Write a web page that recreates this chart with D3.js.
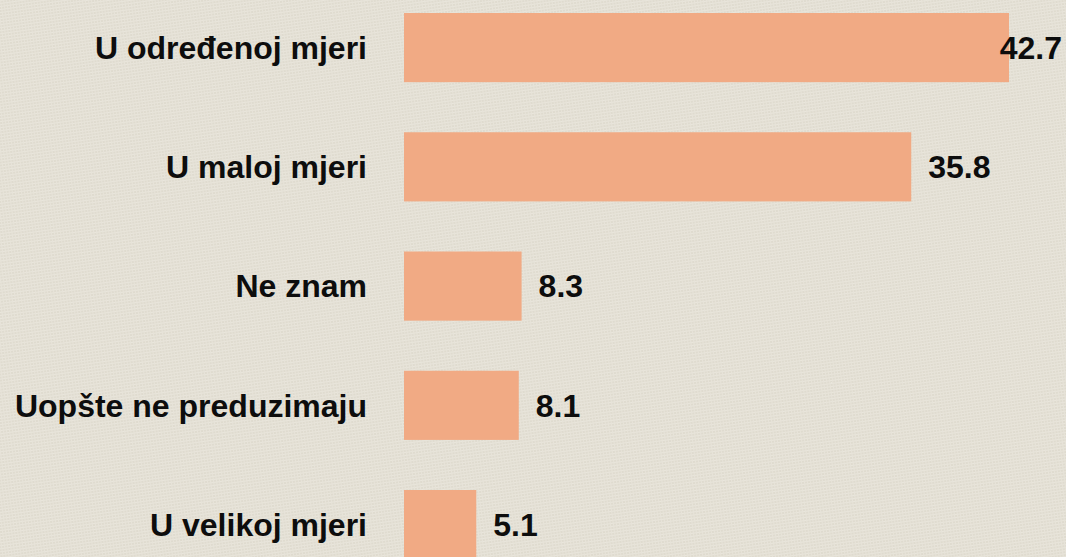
<!DOCTYPE html>
<html>
<head>
<meta charset="utf-8">
<script src="https://cdn.jsdelivr.net/npm/d3@7"></script>
<style>
  html, body { margin: 0; padding: 0; background: #e2ded3; }
  .chart { width: 1066px; height: 557px; overflow: hidden; }
</style>
</head>
<body>
<div class="chart"></div>
<script>
// the answers and their percentages, top to bottom
const categories = ['U određenoj mjeri', 'U maloj mjeri', 'Ne znam', 'Uopšte ne preduzimaju', 'U velikoj mjeri'];
const values = [42.7, 35.8, 8.3, 8.1, 5.1];

const width = 1066;
const height = 557;

let svg = d3.select('.chart').append('svg').attr('width', width).attr('height', height);

// linen-ish background texture
let defs = svg.append('defs');
let pat = defs.append('pattern')
    .attr('id', 'linen')
    .attr('width', 3).attr('height', 3)
    .attr('patternUnits', 'userSpaceOnUse')
    .attr('patternTransform', 'rotate(-8)');
pat.append('rect').attr('width', 3).attr('height', 3).attr('fill', '#dfdbcf');
pat.append('rect').attr('width', 3).attr('height', 1).attr('fill', '#e9e6dc');
pat.append('rect').attr('width', 1).attr('height', 3).attr('fill', '#e7e3d9');

svg.append('rect').attr('width', width).attr('height', height).attr('fill', 'url(#linen)');

// scales - 42.7 ends up at about x=1009
const x = d3.scaleLinear().domain([0, 42.7]).range([404, 1009]);
const step = 119.25;
const y = d3.scaleBand()
    .domain(categories)
    .range([13 - 0.21 * step, 13 - 0.21 * step + categories.length * step])
    .paddingInner(0.42)
    .paddingOuter(0.21);

const fontFamily = '"Liberation Sans", Arial, sans-serif';

let rows = svg.selectAll('g.row')
    .data(categories.map((c, i) => ({cat: c, val: values[i]})))
    .join('g')
    .attr('class', 'row');

rows.append('rect')
    .attr('x', x(0))
    .attr('y', d => y(d.cat))
    .attr('width', d => x(d.val) - x(0))
    .attr('height', y.bandwidth())
    .attr('fill', '#f1aa84');

// category labels on the left
rows.append('text')
    .attr('x', 367)
    .attr('y', d => y(d.cat) + y.bandwidth() / 2)
    .attr('dy', '0.35em')
    .attr('text-anchor', 'end')
    .attr('font-family', fontFamily)
    .attr('font-weight', 'bold')
    .attr('font-size', '32px')
    .attr('fill', '#0d0d0d')
    .text(d => d.cat);

// value labels - pushed back inside the window if they'd run off
rows.append('text')
    .attr('y', d => y(d.cat) + y.bandwidth() / 2)
    .attr('dy', '0.35em')
    .attr('font-family', fontFamily)
    .attr('font-weight', 'bold')
    .attr('font-size', '32px')
    .attr('fill', '#0d0d0d')
    .text(d => d.val.toFixed(1))
    .attr('x', function(d){
        let w = this.getComputedTextLength();
        return Math.min(x(d.val) + 17, width - 4 - w);
    });
</script>
</body>
</html>
